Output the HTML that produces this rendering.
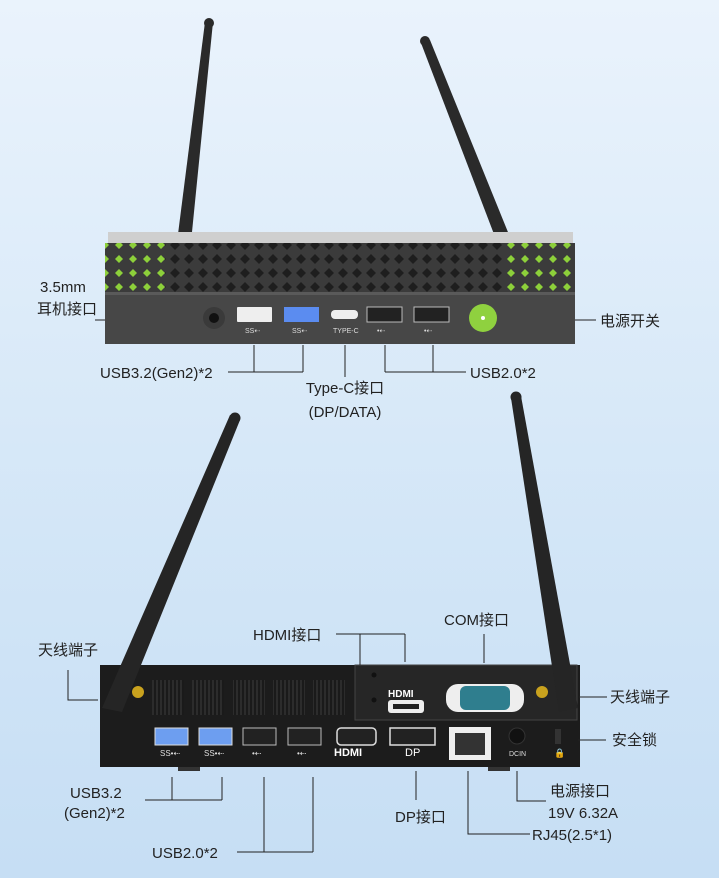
<!DOCTYPE html>
<html><head><meta charset="utf-8"><style>
html,body{margin:0;padding:0}
body{width:719px;height:878px;overflow:hidden;background:linear-gradient(#eaf3fc,#d3e6f7 60%,#c6def4);}
svg{display:block}
text{font-family:"Liberation Sans","Noto Sans CJK SC",sans-serif;font-size:15px;fill:#222}
</style></head><body>
<svg width="719" height="878" viewBox="0 0 719 878" xmlns="http://www.w3.org/2000/svg">
<defs>
<pattern id="vent" width="14" height="14" patternUnits="userSpaceOnUse">
<rect width="14" height="14" fill="#3b3b3b"/>
<path d="M7 2 L12 7 L7 12 L2 7Z" fill="#1e1e1e"/>
</pattern>
<pattern id="gv" width="14" height="14" patternUnits="userSpaceOnUse">
<rect width="14" height="14" fill="#3b3b3b"/>
<path d="M7 3 L11 7 L7 11 L3 7Z" fill="#8dd03a"/>
</pattern>
<pattern id="fin" width="4" height="4" patternUnits="userSpaceOnUse">
<rect width="4" height="4" fill="#1a1a1a"/><rect width="2" height="4" fill="#2c2c2c"/>
</pattern>
</defs>

<!-- TOP DEVICE -->
<polygon points="177,242 191,242 213,22 205,22" fill="#2a2a2a"/>
<circle cx="209" cy="23" r="5" fill="#2a2a2a"/>
<polygon points="497,242 512,242 430,40 421,43" fill="#2a2a2a"/>
<circle cx="425" cy="41" r="5" fill="#2a2a2a"/>
<rect x="108" y="232" width="465" height="14" fill="#cfcfcf"/>
<rect x="105" y="243" width="470" height="50" fill="url(#vent)"/>
<rect x="105" y="243" width="60" height="50" fill="url(#gv)"/>
<rect x="505" y="243" width="70" height="50" fill="url(#gv)"/>
<rect x="105" y="292" width="470" height="52" fill="#474747"/>
<rect x="105" y="292" width="470" height="3" fill="#5a5a5a"/>
<circle cx="214" cy="318" r="11" fill="#3a3a3a"/><circle cx="214" cy="318" r="5" fill="#111"/>
<g fill="#eee"><rect x="237" y="307" width="35" height="15" rx="1"/><rect x="284" y="307" width="35" height="15" fill="#5b8cf0"/><rect x="331" y="310" width="27" height="9" rx="4"/></g>
<rect x="367" y="307" width="35" height="15" fill="#222" stroke="#bbb"/>
<rect x="414" y="307" width="35" height="15" fill="#222" stroke="#bbb"/>
<g><text x="245" y="333" style="font-size:7px;fill:#ddd">SS⇠</text><text x="292" y="333" style="font-size:7px;fill:#ddd">SS⇠</text><text x="333" y="333" style="font-size:7px;fill:#ddd">TYPE-C</text><text x="377" y="333" style="font-size:7px;fill:#ddd">•⇠</text><text x="424" y="333" style="font-size:7px;fill:#ddd">•⇠</text></g>
<circle cx="483" cy="318" r="14" fill="#8fd13f"/><circle cx="483" cy="318" r="2" fill="#fff"/>

<!-- top annotations -->
<g stroke="#222" stroke-width="1" fill="none">
<path d="M95 320 H105"/><path d="M575 320 H596"/>
<path d="M228 372 H303 M254 345 V372 M303 345 V372"/>
<path d="M345 345 V377"/>
<path d="M385 345 V372 M433 345 V372 M385 372 H466"/>
</g>
<text x="40" y="292">3.5mm</text>
<text x="37" y="314">耳机接口</text>
<text x="600" y="326">电源开关</text>
<text x="100" y="378">USB3.2(Gen2)*2</text>
<text x="470" y="378">USB2.0*2</text>
<text x="345" y="393" text-anchor="middle">Type-C接口</text>
<text x="345" y="417" text-anchor="middle">(DP/DATA)</text>

<!-- BOTTOM DEVICE -->
<rect x="100" y="665" width="480" height="102" fill="#1c1c1c"/>
<rect x="355" y="665" width="222" height="55" fill="#262626" stroke="#444"/>
<g fill="url(#fin)"><rect x="152" y="680" width="32" height="35"/><rect x="192" y="680" width="32" height="35"/><rect x="233" y="680" width="32" height="35"/><rect x="273" y="680" width="32" height="35"/><rect x="313" y="680" width="32" height="35"/></g>
<circle cx="374" cy="675" r="2.5" fill="#111"/><circle cx="374" cy="700" r="2.5" fill="#111"/>
<text x="388" y="697" style="font-size:10px;font-weight:bold;fill:#fff">HDMI</text>
<rect x="388" y="700" width="36" height="13" rx="3" fill="#eee"/><rect x="393" y="704" width="26" height="5" fill="#222"/>
<rect x="446" y="684" width="78" height="28" rx="12" fill="#eee"/>
<rect x="460" y="686" width="50" height="24" rx="6" fill="#2f7e8e"/>
<rect x="155" y="728" width="33" height="17" fill="#6d9ef0" stroke="#ddd"/>
<rect x="199" y="728" width="33" height="17" fill="#6d9ef0" stroke="#ddd"/>
<rect x="243" y="728" width="33" height="17" fill="#222" stroke="#bbb"/>
<rect x="288" y="728" width="33" height="17" fill="#222" stroke="#bbb"/>
<rect x="337" y="728" width="39" height="17" rx="4" fill="#222" stroke="#ddd" stroke-width="1.5"/>
<rect x="390" y="728" width="45" height="17" fill="#222" stroke="#ddd" stroke-width="1.5"/>
<rect x="449" y="727" width="42" height="33" fill="#eee"/><rect x="455" y="733" width="30" height="22" fill="#333"/>
<circle cx="517" cy="736" r="8" fill="#111" stroke="#333"/>
<rect x="555" y="729" width="6" height="15" fill="#333"/>
<g><text x="160" y="756" style="font-size:8px;fill:#ddd">SS•⇠</text><text x="204" y="756" style="font-size:8px;fill:#ddd">SS•⇠</text><text x="252" y="756" style="font-size:8px;fill:#ddd">•⇠</text><text x="297" y="756" style="font-size:8px;fill:#ddd">•⇠</text>
<text x="334" y="756" style="font-size:11px;font-weight:bold;fill:#fff">HDMI</text><text x="405" y="756" style="font-size:11px;fill:#fff">DP</text><text x="509" y="756" style="font-size:7px;fill:#ddd">DCIN</text><text x="554" y="756" style="font-size:9px;fill:#ddd">🔒</text></g>
<rect x="178" y="767" width="22" height="4" fill="#333"/><rect x="488" y="767" width="22" height="4" fill="#333"/>
<!-- antennas -->
<polygon points="102,708 122,712 240,420 230,415" fill="#252525"/>
<circle cx="235" cy="418" r="5.5" fill="#252525"/>
<polygon points="559,712 578,708 521,396 511,398" fill="#252525"/>
<circle cx="516" cy="397" r="5.5" fill="#252525"/>
<circle cx="138" cy="692" r="6" fill="#c9a21e"/><circle cx="542" cy="692" r="6" fill="#c9a21e"/>

<!-- bottom annotations -->
<g stroke="#222" stroke-width="1" fill="none">
<path d="M68 670 V700 H98"/>
<path d="M579 697 H607"/><path d="M578 740 H606"/>
<path d="M336 634 H405 M360 634 V665 M405 634 V662"/>
<path d="M484 634 V663"/>
<path d="M145 800 H222 M172 777 V800 M222 777 V800"/>
<path d="M237 852 H313 M264 777 V852 M313 777 V852"/>
<path d="M416 771 V800"/>
<path d="M468 771 V834 H530"/>
<path d="M517 771 V801 H546"/>
</g>
<text x="38" y="655">天线端子</text>
<text x="610" y="702">天线端子</text>
<text x="612" y="745">安全锁</text>
<text x="253" y="640">HDMI接口</text>
<text x="444" y="625">COM接口</text>
<text x="70" y="798">USB3.2</text>
<text x="64" y="818">(Gen2)*2</text>
<text x="152" y="858">USB2.0*2</text>
<text x="395" y="822">DP接口</text>
<text x="550" y="796">电源接口</text>
<text x="548" y="818">19V 6.32A</text>
<text x="532" y="840">RJ45(2.5*1)</text>
</svg>
</body></html>
